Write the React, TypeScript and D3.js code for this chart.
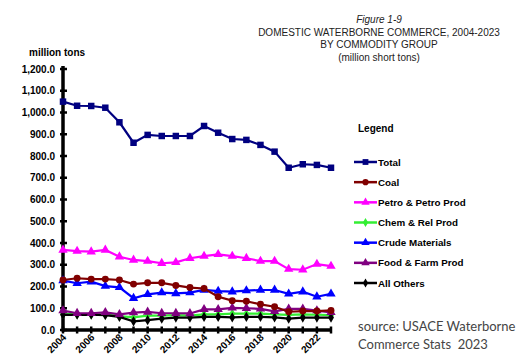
import React from 'react';
import * as d3 from 'd3';

const years = d3.range(2004, 2024);
const yTicks = [0, 100, 200, 300, 400, 500, 600, 700, 800, 900, 1000, 1100, 1200];
const xLabelYears = [2004, 2006, 2008, 2010, 2012, 2014, 2016, 2018, 2020, 2022];

const total = [1050, 1031, 1030, 1022, 955, 861, 897, 892, 892, 892, 938, 907, 878, 874, 851, 820, 746, 762, 759, 746];
const coal = [230, 238, 234, 234, 230, 211, 217, 217, 205, 195, 191, 153, 135, 132, 118, 107, 84, 87, 87, 90];
const petro = [368, 363, 360, 368, 337, 322, 317, 307, 311, 330, 340, 348, 340, 330, 317, 317, 280, 277, 303, 294];
const chem = [74, 72, 72, 72, 64, 58, 66, 66, 68, 66, 72, 72, 75, 75, 75, 72, 70, 72, 70, 68];
const crude = [227, 215, 222, 202, 196, 146, 164, 172, 168, 172, 184, 179, 176, 181, 184, 184, 166, 176, 153, 166];
const food = [89, 77, 77, 81, 72, 80, 83, 77, 77, 76, 95, 95, 102, 100, 97, 86, 97, 97, 89, 81];
const others = [70, 70, 70, 68, 60, 40, 45, 52, 57, 57, 60, 60, 58, 60, 60, 58, 52, 57, 57, 57];

type Marker = 'square' | 'circle' | 'triangle' | 'diamond';

const series: { name: string; values: number[]; color: string; marker: Marker }[] = [
  { name: 'Total', values: total, color: '#000080', marker: 'square' },
  { name: 'Coal', values: coal, color: '#800000', marker: 'circle' },
  { name: 'Petro & Petro Prod', values: petro, color: '#ff00ff', marker: 'triangle' },
  { name: 'Chem & Rel Prod', values: chem, color: '#33ee33', marker: 'diamond' },
  { name: 'Crude Materials', values: crude, color: '#0000ff', marker: 'triangle' },
  { name: 'Food & Farm Prod', values: food, color: '#800080', marker: 'triangle' },
  { name: 'All Others', values: others, color: '#000000', marker: 'diamond' },
];

// draw order: low series first so the top ones sit on top
const drawOrder = ['Chem & Rel Prod', 'All Others', 'Food & Farm Prod', 'Crude Materials', 'Coal', 'Petro & Petro Prod', 'Total'];

const symbolFor: Record<Marker, d3.SymbolType> = {
  square: d3.symbolSquare,
  circle: d3.symbolCircle,
  triangle: d3.symbolTriangle,
  diamond: d3.symbolDiamond,
};

const sizeFor: Record<Marker, number> = { square: 42, circle: 38, triangle: 38, diamond: 30 };

export default function App() {
  const width = 523;
  const height = 363;
  const x = d3.scaleLinear().domain([2004, 2023]).range([63, 331]);
  const y = d3.scaleLinear().domain([0, 1200]).range([330, 69]);
  const fmt = d3.format(',.1f');
  const line = d3.line<number>()
    .x((_, i) => x(years[i]))
    .y(d => y(d));

  const axisFont = '"Liberation Sans", Arial, sans-serif';
  const legendY = d3.scalePoint<string>().domain(series.map(s => s.name)).range([162, 283]);

  return (
    <svg width={width} height={height} style={{ position: 'absolute', left: 0, top: 0, background: '#fff' }}>
      {/* title */}
      <g fontFamily={axisFont} fontSize={10} fill="#222" textAnchor="middle">
        <text x={379} y={23} fontStyle="italic">Figure 1-9</text>
        <text x={379} y={36}>DOMESTIC WATERBORNE COMMERCE, 2004-2023</text>
        <text x={379} y={48}>BY COMMODITY GROUP</text>
        <text x={379} y={61}>(million short tons)</text>
      </g>
      <text x={29} y={56} fontFamily={axisFont} fontSize={10} fontWeight="bold">million tons</text>

      {/* y axis */}
      <g fontFamily={axisFont} fontSize={10} fontWeight="bold">
        {yTicks.map(t => (
          <g key={t}>
            <line x1={60} x2={67} y1={y(t)} y2={y(t)} stroke="#000" strokeWidth={2.5} />
            <text x={55} y={y(t) + 3.5} textAnchor="end">{fmt(t)}</text>
          </g>
        ))}
      </g>
      <line x1={x(2004)} x2={x(2004)} y1={y(1200) - 3} y2={y(0) + 1.5} stroke="#000" strokeWidth={3.5} />

      {/* x axis */}
      <line x1={x(2004)} x2={x(2023) + 1} y1={y(0)} y2={y(0)} stroke="#000" strokeWidth={3.5} />
      {years.map(yr => (
        <line key={yr} x1={x(yr)} x2={x(yr)} y1={y(0) - 3.5} y2={y(0) + 3.5} stroke="#000" strokeWidth={2.5} />
      ))}
      <g fontFamily={axisFont} fontSize={10} fontWeight="bold">
        {xLabelYears.map(yr => (
          <text key={yr} transform={`translate(${x(yr) + 4},${y(0) + 8}) rotate(-45)`} textAnchor="end">{yr}</text>
        ))}
      </g>

      {/* series */}
      {drawOrder.map(n => {
        const s = series.find(d => d.name === n)!;
        const sym = d3.symbol(symbolFor[s.marker], sizeFor[s.marker]);
        return (
          <g key={s.name}>
            <path d={line(s.values) ?? ''} fill="none" stroke={s.color} strokeWidth={2.2} />
            {s.values.map((v, i) => (
              <path key={i} d={sym() ?? ''} transform={`translate(${x(years[i])},${y(v)})`} fill={s.color} />
            ))}
          </g>
        );
      })}

      {/* legend */}
      <text x={358} y={132} fontFamily={axisFont} fontSize={10} fontWeight="bold">Legend</text>
      {series.map(s => {
        const ly = legendY(s.name)!;
        const sym = d3.symbol(symbolFor[s.marker], sizeFor[s.marker] * 0.8);
        return (
          <g key={s.name}>
            <line x1={354} x2={377} y1={ly} y2={ly} stroke={s.color} strokeWidth={2.5} />
            <path d={sym() ?? ''} transform={`translate(365.5,${ly})`} fill={s.color} />
            <text x={378} y={ly + 3.5} fontFamily={axisFont} fontSize={9.8} fontWeight="bold">{s.name}</text>
          </g>
        );
      })}

      {/* source */}
      <g fontFamily='Lato, "Open Sans", sans-serif' fontSize={13} fill="#444" style={{ whiteSpace: 'pre' }}>
        <text x={358} y={331}>source: USACE Waterborne</text>
        <text x={358} y={349}>{'Commerce Stats\u00a0\u00a02023'}</text>
      </g>
    </svg>
  );
}
